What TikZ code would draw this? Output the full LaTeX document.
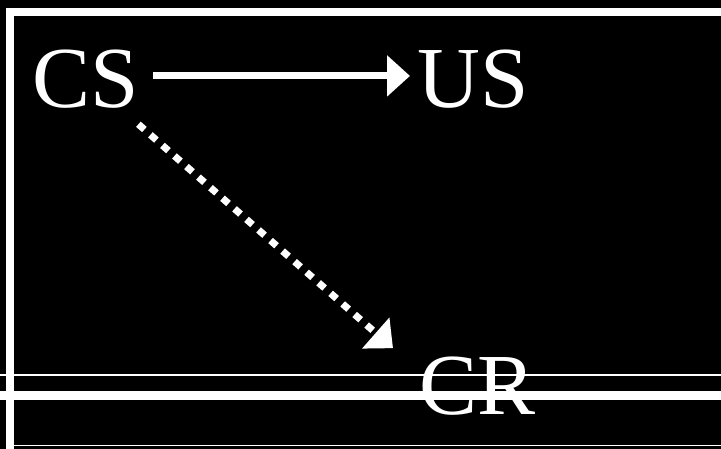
\documentclass[tikz,border=0pt]{standalone}
\usepackage{fontspec}
\setmainfont{Liberation Serif}
\usepackage{tikz}
\usetikzlibrary{positioning,arrows.meta}
\tikzset{
  term/.style={text=white,font=\fontsize{87}{87}\selectfont,inner sep=0pt,anchor=base west},
  pair/.style={-{Triangle[length=23pt,width=40pt]},draw=white,line width=7pt},
  ghost/.style={-{Triangle[length=23pt,width=40pt]},draw=white,line width=7pt,
    dash pattern=on 8pt off 8pt},
  frame/.style={draw=white,line width=8pt},
  rule/.style={draw=white,line width=#1},
}
\begin{document}
\begin{tikzpicture}[x=1pt,y=-1pt]
  \fill[black] (0,0) rectangle (721,449);
  \useasboundingbox (0,0) rectangle (721,449);
  % border
  \draw[frame] (6,12)--(721,12);
  \draw[frame] (10,8)--(10,449);
  \draw[rule=1.5pt] (14,445.5)--(721,445.5);
  % terms
  \node[term] (cs) at (32.6,108) {CS};
  \node[term] (us) at (417,108) {US};
  \node[term] (cr) at (419.3,414) {CR};
  \draw[pair] ([xshift=14pt,yshift=3.7pt]cs.east) -- ([xshift=-7pt,yshift=3.7pt]us.west);
  \draw[ghost] ([xshift=-1pt,yshift=-15.2pt]cs.south east) -- ([xshift=-26.3pt,yshift=8pt]cr.north west);
  % double rule
  \draw[rule=2pt] (0,375.5)--(721,375.5);
  \draw[rule=8.7pt] (0,395.7)--(721,395.7);
\end{tikzpicture}
\end{document}
